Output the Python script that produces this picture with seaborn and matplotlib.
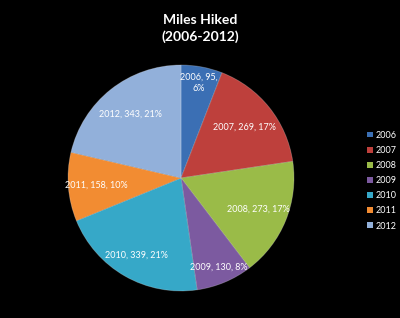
import numpy as np
import matplotlib
matplotlib.use("Agg")
import matplotlib.pyplot as plt
import seaborn as sns

years = ["2006", "2007", "2008", "2009", "2010", "2011", "2012"]
miles = [95, 269, 273, 130, 339, 158, 343]
colors = ["#3B6FB4", "#BE403C", "#9ABB48", "#7C5AA0", "#36A8C8", "#F28C32", "#92B0DA"]
title = "Miles Hiked\n(2006-2012)"

sns.set_theme(style="dark")
plt.rcParams['font.family'] = ['Lato', 'DejaVu Sans']

fig = plt.figure(figsize=(4.0, 3.18), dpi=100, facecolor="black")
ax = fig.add_axes([0.1700, 0.0849, 0.565, 0.7107])
ax.set_facecolor("black")

total = sum(miles)
wedges, _ = ax.pie(miles, colors=colors, startangle=90, counterclock=False,
                   wedgeprops=dict(edgecolor=(1, 1, 1, 0.25), linewidth=0.6))
ax.set_aspect("equal")
ax.set_xlim(-1, 1)
ax.set_ylim(-1, 1)

dists = [0.86, 0.72, 0.74, 0.86, 0.79, 0.75, 0.72]
for w, y, v, d in zip(wedges, years, miles, dists):
    ang = np.deg2rad((w.theta1 + w.theta2) / 2)
    pct = round(100 * v / total)
    lab = f"{y}, {v}, {pct}%"
    if y == "2006":
        lab = f"{y}, {v},\n{pct}%"
    ax.text(d * np.cos(ang), d * np.sin(ang), lab, ha="center", va="center",
            color="white", fontsize=6.5, linespacing=1.3)

fig.text(0.5, 0.955, title, ha="center", va="top", color="white",
         fontsize=10, fontweight="bold", linespacing=1.35)

handles = [plt.Rectangle((0, 0), 1, 1, facecolor=c, edgecolor="none") for c in colors]
leg = fig.legend(handles, years, loc="center left", bbox_to_anchor=(0.918, 0.432),
                 frameon=False, fontsize=6.5, handlelength=0.6, handleheight=0.6,
                 handletextpad=0.3, labelspacing=0.68, borderpad=0, borderaxespad=0)
for t in leg.get_texts():
    t.set_color("white")

fig.savefig("out.png", dpi=100, facecolor="black")
